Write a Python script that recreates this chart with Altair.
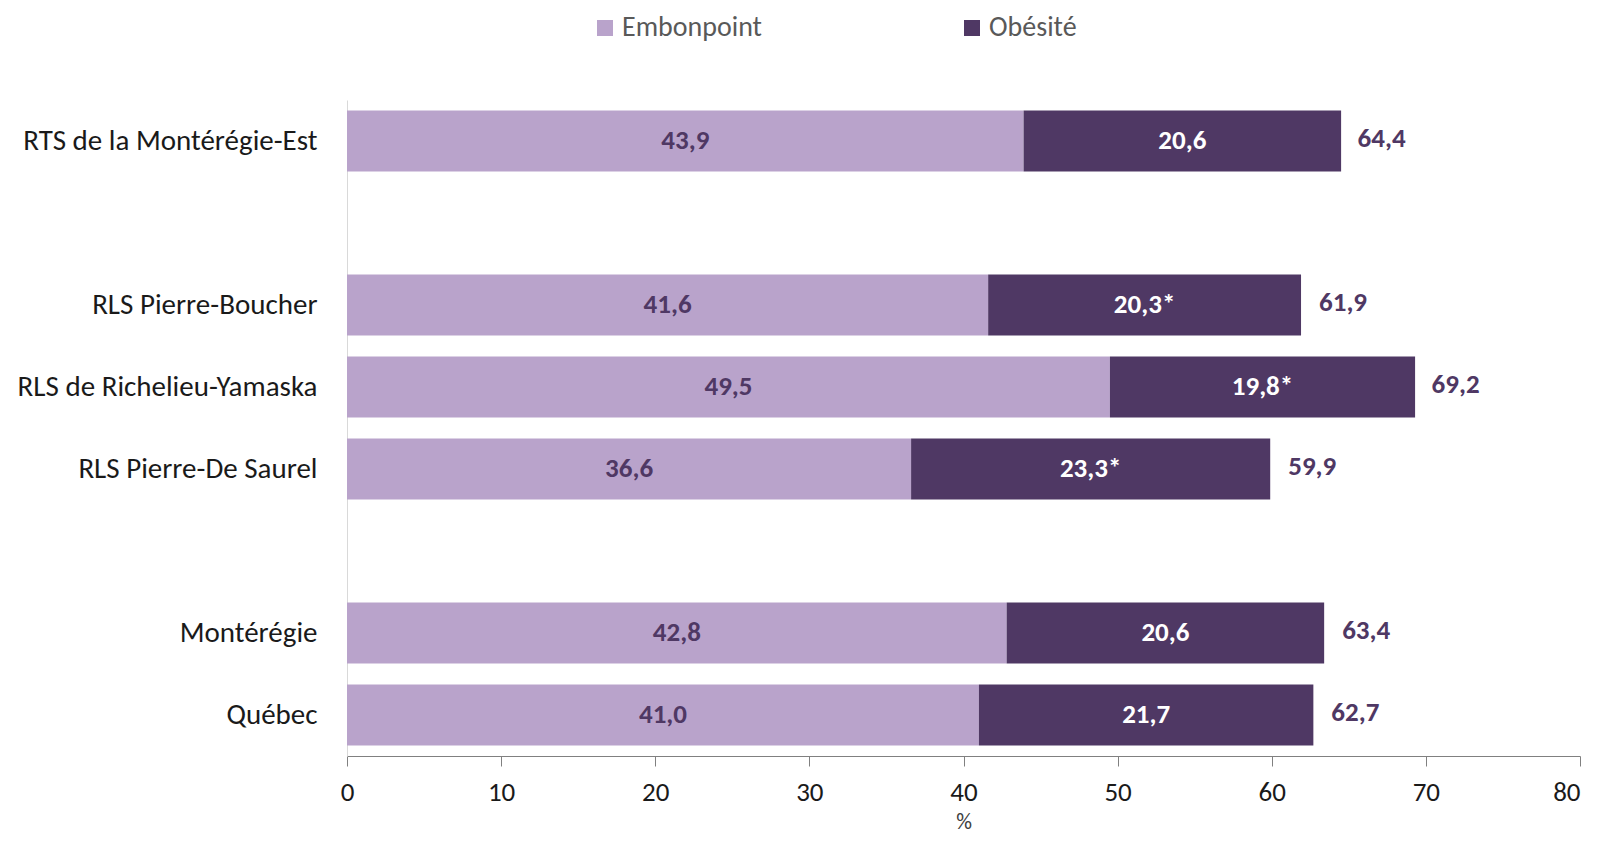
import altair as alt
import pandas as pd

categories = ["RTS de la Montérégie-Est", " ", "RLS Pierre-Boucher", "RLS de Richelieu-Yamaska",
              "RLS Pierre-De Saurel", "  ", "Montérégie", "Québec"]
regions = ["RTS de la Montérégie-Est", "RLS Pierre-Boucher", "RLS de Richelieu-Yamaska",
           "RLS Pierre-De Saurel", "Montérégie", "Québec"]
embonpoint = [43.9, 41.6, 49.5, 36.6, 42.8, 41.0]
obesite = [20.6, 20.3, 19.8, 23.3, 20.6, 21.7]
obesite_flag = ["", "*", "*", "*", "", ""]
totals = [64.4, 61.9, 69.2, 59.9, 63.4, 62.7]
series = ["Embonpoint", "Obésité"]

def fmt(v):
    return f"{v:.1f}".replace(".", ",")

rows = []
for r, e, o, f, t in zip(regions, embonpoint, obesite, obesite_flag, totals):
    rows.append({"region": r, "serie": "Embonpoint", "start": 0.0, "end": e,
                 "mid": e / 2, "label": fmt(e)})
    rows.append({"region": r, "serie": "Obésité", "start": e, "end": e + o,
                 "mid": e + o / 2, "label": fmt(o) + f})
df = pd.DataFrame(rows)
tot = pd.DataFrame({"region": regions, "total": totals, "label": [fmt(t) for t in totals]})

FONT = "Carlito, Lato, sans-serif"
LIGHT = "#b9a3cb"
DARK = "#4f3864"

y = alt.Y("region:N", sort=categories,
          scale=alt.Scale(domain=categories, paddingInner=0.255, paddingOuter=0.1275),
          axis=alt.Axis(title=None, ticks=False, labelPadding=30, domainColor="#d9d9d9",
                        labelFontSize=29, labelColor="#1a1a1a", labelFont=FONT,
                        labelLimit=0))

bars = alt.Chart(df).mark_bar().encode(
    x=alt.X("start:Q", scale=alt.Scale(domain=[0, 80], nice=False),
            axis=alt.Axis(title="%", values=list(range(0, 81, 10)), tickSize=10,
                          grid=False, domainColor="#808080", tickColor="#808080",
                          labelFontSize=27, labelColor="#1a1a1a", labelFont=FONT,
                          labelFlush=False, labelPadding=13,
                          labelAlign=alt.ExprRef(expr="datum.value >= 80 ? 'right' : 'center'"),
                          titleFont=FONT, titleFontSize=22,
                          titleFontWeight="normal", titleColor="#404040",
                          titleBaseline="alphabetic", titleY=72)),
    x2="end:Q",
    y=y,
    color=alt.Color("serie:N", scale=alt.Scale(domain=series, range=[LIGHT, DARK]),
                    legend=alt.Legend(title=None, orient="none", direction="horizontal",
                                      legendX=244, legendY=-86, symbolType="square",
                                      symbolSize=256, symbolStrokeWidth=0,
                                      labelFontSize=28, labelFont=FONT, labelColor="#595959",
                                      columnPadding=196, labelOffset=3)),
)

inner = alt.Chart(df).mark_text(fontWeight="bold", fontSize=27, font=FONT).encode(
    x="mid:Q",
    y=alt.Y("region:N", sort=categories),
    text="label:N",
    color=alt.Color("serie:N", scale=alt.Scale(domain=series, range=[DARK, "#ffffff"]), legend=None),
)

outer = alt.Chart(tot).mark_text(fontWeight="bold", fontSize=27, font=FONT, align="left",
                                 dx=18, dy=-2, color=DARK).encode(
    x="total:Q",
    y=alt.Y("region:N", sort=categories),
    text="label:N",
)

chart = alt.layer(bars, inner, outer).resolve_scale(color="independent").properties(
    width=1233, height=656,
    autosize=alt.AutoSizeParams(type="none"),
    padding={"left": 339, "top": 92, "right": 10, "bottom": 78},
).configure_view(stroke=None)

chart.save("out.html", embed_options={"renderer": "svg", "actions": False})
